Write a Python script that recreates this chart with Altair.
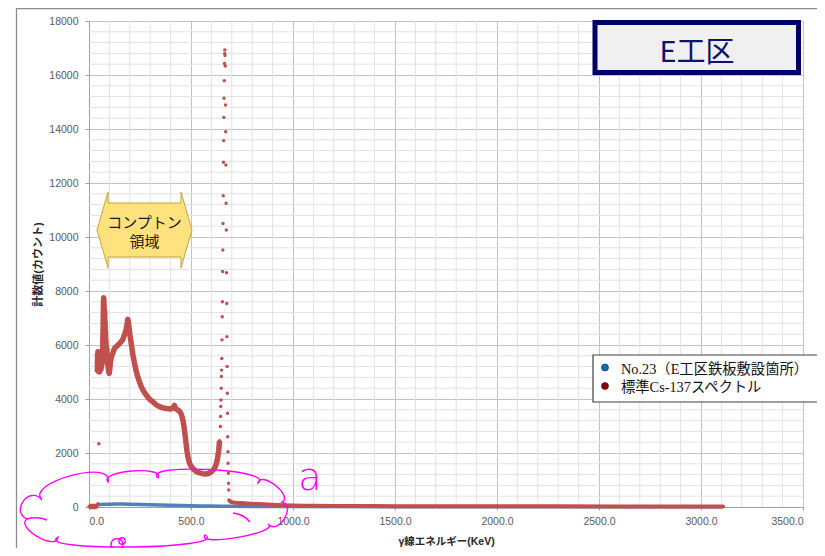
import math
import altair as alt
import pandas as pd

# ---------------- data ----------------
# Cs-137 standard spectrum (red)
red_low_E = [0, 10, 20, 30, 40]
red_low_C = [15, 18, 20, 22, 25]
red_iso_E = [44, 48]
red_iso_C = [120, 2340]
red_main_E = [41, 42, 43, 44, 45, 46, 47, 49, 50, 51, 52, 53, 55, 57, 59, 61, 63, 65, 67, 69,
              70, 71, 72, 73, 74, 75, 76, 77, 78, 79, 80, 81, 82, 83, 85, 87, 89, 91, 93, 95,
              97, 99, 101, 103, 105, 108, 111, 114, 117, 120, 124, 128, 134, 140, 145, 150,
              155, 160, 166, 170, 175, 182, 187, 190, 193, 196, 200, 207, 215, 223, 231, 239,
              248, 256, 268, 280, 290, 300, 313, 330, 345, 360, 378, 400, 410, 419, 425, 433,
              443, 450, 456, 462, 467, 472, 476, 480, 484, 488, 494, 502, 512, 525, 540, 557,
              569, 585, 598, 610, 619, 625, 630, 636, 640]
red_main_C = [5000, 5650, 5150, 5750, 5050, 5450, 5250, 5150, 5550, 5000, 5700, 5300, 5150,
              5400, 5100, 5450, 5250, 5550, 5900, 6600, 7100, 7550, 7750, 7650, 7450, 7200,
              6900, 7250, 6600, 6850, 6250, 6500, 5950, 6150, 5750, 5900, 5450, 5350, 5250,
              5100, 5000, 4950, 5050, 5200, 5350, 5500, 5600, 5650, 5700, 5780, 5850, 5900,
              5940, 5980, 6020, 6060, 6100, 6150, 6200, 6300, 6400, 6580, 6800, 6950, 6880,
              6650, 6400, 6060, 5650, 5320, 5050, 4830, 4620, 4460, 4290, 4150, 4050, 3970,
              3900, 3780, 3720, 3680, 3650, 3630, 3660, 3760, 3640, 3600, 3550, 3480, 3350,
              3150, 2900, 2600, 2350, 2100, 1900, 1750, 1600, 1490, 1400, 1320, 1270, 1235,
              1220, 1240, 1290, 1380, 1500, 1620, 1800, 2100, 2450]
red_peak_E = [644, 645, 646, 647, 648, 649, 650, 651, 652, 653, 654, 655, 656, 657, 658, 659,
              660, 661, 662, 663, 664, 665, 666, 667, 668, 669, 670, 671, 672, 673, 674, 675,
              676, 677, 678, 679, 680, 681, 682, 683, 684, 685]
red_peak_C = [2980, 3350, 3720, 3960, 4400, 4830, 5070, 5500, 6190, 7050, 7600, 8720, 9520,
              10500, 11530, 12770, 13570, 14430, 15140, 15790, 16430, 16800, 16930, 16720,
              16330, 14890, 13900, 12670, 11250, 10260, 8680, 7540, 6310, 5200, 4210, 3470,
              2600, 2050, 1620, 1250, 880, 630]
red_tail_E = [686, 690, 695, 700, 710, 720, 740, 760, 790, 820, 850, 900, 950, 1000, 1050,
              1100, 1200, 1300, 1400, 1500, 1700, 2000, 2300, 2600, 2900, 3110]
red_tail_C = [260, 220, 195, 180, 165, 155, 145, 135, 125, 112, 100, 82, 66, 55, 48, 44, 40,
              36, 34, 32, 30, 27, 25, 23, 21, 20]

# No.23 measurement (blue)
blue_E = [45, 60, 80, 100, 130, 160, 200, 250, 300, 350, 400, 450, 500, 550, 600, 650, 700,
          800, 1000, 1500, 2000, 2500, 3110]
blue_C = [85, 95, 100, 105, 110, 110, 105, 95, 85, 75, 65, 55, 45, 40, 35, 30, 25, 20, 15,
          10, 8, 6, 5]

series_names = ["No.23（E工区鉄板敷設箇所）", "標準Cs-137スペクトル"]
legend_colors = ["#0070C0", "#8B0000"]
series_colors = ["#4F81BD", "#C0504D"]

x_ticks = [0, 500, 1000, 1500, 2000, 2500, 3000, 3500]
y_ticks = [0, 2000, 4000, 6000, 8000, 10000, 12000, 14000, 16000, 18000]
x_minor = [v for v in range(0, 3501, 100) if v % 500]
y_minor = [v for v in range(0, 18001, 400) if v % 2000]

title_text = ["E工区"]
note_lines = ["コンプトン", "領域"]
mark_a = ["a"]
x_title = "γ線エネルギー(KeV)"
y_title = "計数値(カウント)"

# ---------------- frames ----------------
def seg_frame(E, C, seg):
    return pd.DataFrame({"E": E, "C": C, "seg": [seg] * len(E)})

df_red_band = pd.concat([seg_frame(red_low_E, red_low_C, "A"),
                         seg_frame(red_main_E, red_main_C, "B")], ignore_index=True)
df_red_tail = seg_frame(red_tail_E, red_tail_C, "D")
df_red_pts = pd.concat([df_red_band, df_red_tail,
                        seg_frame(red_iso_E, red_iso_C, "I"),
                        seg_frame(red_peak_E, red_peak_C, "P")], ignore_index=True)
df_blue = pd.DataFrame({"E": blue_E, "C": blue_C})

LAT_CJK = "Liberation Sans, Noto Sans CJK JP"

x_axis = alt.Axis(values=x_ticks, format=".1f", title=x_title, grid=True,
                  gridColor="#c2c2c2", gridWidth=1, domainColor="#a0a0a0",
                  tickColor="#a0a0a0", tickSize=3, labelPadding=6,
                  labelFont="Liberation Sans", labelFontSize=10.5, labelColor="#595959",
                  titleFont=LAT_CJK, titleFontSize=10.5, titleFontWeight="bold",
                  titleColor="#262626", titlePadding=10)
y_axis = alt.Axis(values=y_ticks, format="d", title=y_title, grid=True,
                  gridColor="#c2c2c2", gridWidth=1, domainColor="#a0a0a0",
                  tickColor="#a0a0a0", tickSize=4, labelPadding=7,
                  labelFont="Liberation Sans", labelFontSize=10.5, labelColor="#595959",
                  titleFont=LAT_CJK, titleFontSize=11, titleFontWeight="bold",
                  titleColor="#262626", titlePadding=5)
xs = alt.Scale(domain=[0, 3500], nice=False)
ys = alt.Scale(domain=[0, 18000], nice=False)
X = alt.X("E:Q", scale=xs, axis=x_axis)
Y = alt.Y("C:Q", scale=ys, axis=y_axis)

# plot area origin on the page
OX, OY = 89, 21

minor_v = alt.Chart(pd.DataFrame({"E": x_minor})).mark_rule(
    color="#e2e2e2", strokeWidth=1).encode(x=X)
minor_h = alt.Chart(pd.DataFrame({"C": y_minor})).mark_rule(
    color="#e2e2e2", strokeWidth=1).encode(y=Y)

blue_line = alt.Chart(df_blue).mark_line(color=series_colors[0], strokeWidth=3.5).encode(
    x=X, y=Y)
red_band = alt.Chart(df_red_band).mark_line(color=series_colors[1], strokeWidth=5.5,
                                            strokeJoin="round").encode(
    x=X, y=Y, detail="seg:N")
red_tail = alt.Chart(df_red_tail).mark_line(color=series_colors[1], strokeWidth=4).encode(
    x=X, y=Y)
red_pts = alt.Chart(df_red_pts).mark_circle(color=series_colors[1], size=12, opacity=1).encode(
    x=X, y=Y)

one = pd.DataFrame({"k": [0]})

# outer chart border (top and left edges visible)
border_top = alt.Chart(one).mark_rule(color="#8c8c8c", strokeWidth=1.3).encode(
    x=alt.value(16 - OX), x2=alt.value(760), y=alt.value(8.5 - OY))
border_left = alt.Chart(one).mark_rule(color="#8c8c8c", strokeWidth=1.3).encode(
    x=alt.value(16.5 - OX), y=alt.value(8 - OY), y2=alt.value(560))

# title box
tbox = alt.Chart(one).mark_rect(fill="#f0f0f0", stroke="#000066", strokeWidth=5).encode(
    x=alt.value(595 - OX), x2=alt.value(798.5 - OX), y=alt.value(22.5 - OY),
    y2=alt.value(72.5 - OY))
ttext = alt.Chart(pd.DataFrame({"t": title_text})).mark_text(
    font="Noto Sans CJK JP", fontSize=29, color="#10106e", align="center",
    baseline="alphabetic").encode(text="t:N", x=alt.value(697 - OX), y=alt.value(61.5 - OY))

# legend box
lbox = alt.Chart(one).mark_rect(fill="white", stroke="#404040", strokeWidth=1.2).encode(
    x=alt.value(593 - OX), x2=alt.value(850 - OX), y=alt.value(355 - OY),
    y2=alt.value(402 - OY))
legend_layers = []
for i, (nm, col) in enumerate(zip(series_names, legend_colors)):
    cy = 367.5 + 18.5 * i
    legend_layers.append(
        alt.Chart(one).mark_point(shape="circle", filled=True, fill=col, stroke="#222222",
                                  strokeWidth=0.6, size=50, opacity=1).encode(
            x=alt.value(605 - OX), y=alt.value(cy - OY)))
    legend_layers.append(
        alt.Chart(pd.DataFrame({"t": [nm]})).mark_text(
            font="Liberation Serif, Noto Sans CJK JP", fontSize=14.3, color="#111111",
            align="left", baseline="alphabetic").encode(
            text="t:N", x=alt.value(621 - OX), y=alt.value(cy + 6 - OY)))

# Compton region arrow shape
hx, hy = 144.5, 230
hex_pts = [(-36.5, -38), (-36.5, -27), (36.5, -27), (36.5, -38), (47.5, 0), (36.5, 38),
           (36.5, 27), (-36.5, 27), (-36.5, 38), (-47.5, 0)]
hex_path = "M" + " L".join(f"{a},{b}" for a, b in hex_pts) + " Z"
hexa = alt.Chart(one).mark_point(shape=hex_path, size=4, filled=True, fill="#FFE17D",
                                 stroke="#C4A53A", strokeWidth=1, opacity=1).encode(
    x=alt.value(hx - OX), y=alt.value(hy - OY))
note_layers = []
for i, line in enumerate(note_lines):
    note_layers.append(
        alt.Chart(pd.DataFrame({"t": [line]})).mark_text(
            font="Noto Sans CJK JP", fontSize=15, color="#1a1a1a", align="center",
            baseline="alphabetic").encode(text="t:N", x=alt.value(144.5 - OX),
                                          y=alt.value(227.5 + 19 * i - OY)))

# magenta cloud annotation
def cloud_path(start, lobes, ox, oy):
    x0, y0 = start
    parts = [f"M{x0 - ox:.1f},{y0 - oy:.1f}"]
    for x1, y1, h in lobes:
        dx, dy = x1 - x0, y1 - y0
        L = math.hypot(dx, dy)
        ux, uy = dx / L, dy / L
        nx, ny = uy, -ux
        k = 4.0 / 3.0 * h
        t = 0.18 * L
        c1 = (x0 + nx * k - ux * t, y0 + ny * k - uy * t)
        c2 = (x1 + nx * k + ux * t, y1 + ny * k + uy * t)
        parts.append(f"C{c1[0] - ox:.1f},{c1[1] - oy:.1f} {c2[0] - ox:.1f},{c2[1] - oy:.1f} "
                     f"{x1 - ox:.1f},{y1 - oy:.1f}")
        x0, y0 = x1, y1
    parts.append("Z")
    return " ".join(parts)

def circle_path(cx, cy, r, ox, oy):
    kk = 0.5523 * r
    cx, cy = cx - ox, cy - oy
    return (f"M{cx - r:.1f},{cy:.1f} C{cx - r:.1f},{cy - kk:.1f} {cx - kk:.1f},{cy - r:.1f} {cx:.1f},{cy - r:.1f} "
            f"C{cx + kk:.1f},{cy - r:.1f} {cx + r:.1f},{cy - kk:.1f} {cx + r:.1f},{cy:.1f} "
            f"C{cx + r:.1f},{cy + kk:.1f} {cx + kk:.1f},{cy + r:.1f} {cx:.1f},{cy + r:.1f} "
            f"C{cx - kk:.1f},{cy + r:.1f} {cx - r:.1f},{cy + kk:.1f} {cx - r:.1f},{cy:.1f} Z")

cloud_lobes = [(108, 482, 16), (158, 478, 9), (258, 483, 11), (282, 502, 9),
               (268, 524, 11), (205, 535, 8), (58, 537, 11), (27, 519, 10), (42, 500, 14)]
cloud = cloud_path((42, 500), cloud_lobes, OX, OY)
cloud += f" M{27 - OX},{519 - OY} Q{37 - OX},{516 - OY} {47 - OX},{520 - OY}"
cloud += f" M{233 - OX},{513 - OY} Q{245 - OX},{515 - OY} {250 - OX},{522 - OY}"
cloud += " " + circle_path(117, 544.5, 6.0, OX, OY)
cloud += " " + circle_path(122, 541, 3.2, OX, OY)
cloud_mark = alt.Chart(one).mark_point(shape=cloud, size=4, filled=False, stroke="#FF00FF",
                                       strokeWidth=1.4, opacity=1).encode(
    x=alt.value(0), y=alt.value(0))
a_text = alt.Chart(pd.DataFrame({"t": mark_a})).mark_text(
    font="DejaVu Sans", fontWeight=300, fontSize=38, color="#FF00FF", align="center",
    baseline="alphabetic").encode(text="t:N", x=alt.value(310 - OX), y=alt.value(490 - OY))

chart = alt.layer(
    minor_v, minor_h, blue_line, red_band, red_tail, red_pts,
    border_top, border_left, tbox, ttext, lbox, *legend_layers, hexa, *note_layers,
    cloud_mark, a_text
).properties(
    width=714, height=486,
    autosize=alt.AutoSizeParams(type="none"),
    padding={"left": 81, "top": 13, "right": 14, "bottom": 41},
    background="white",
).configure_view(stroke=None)

chart.save("out.html", embed_options={"renderer": "svg", "actions": False})
